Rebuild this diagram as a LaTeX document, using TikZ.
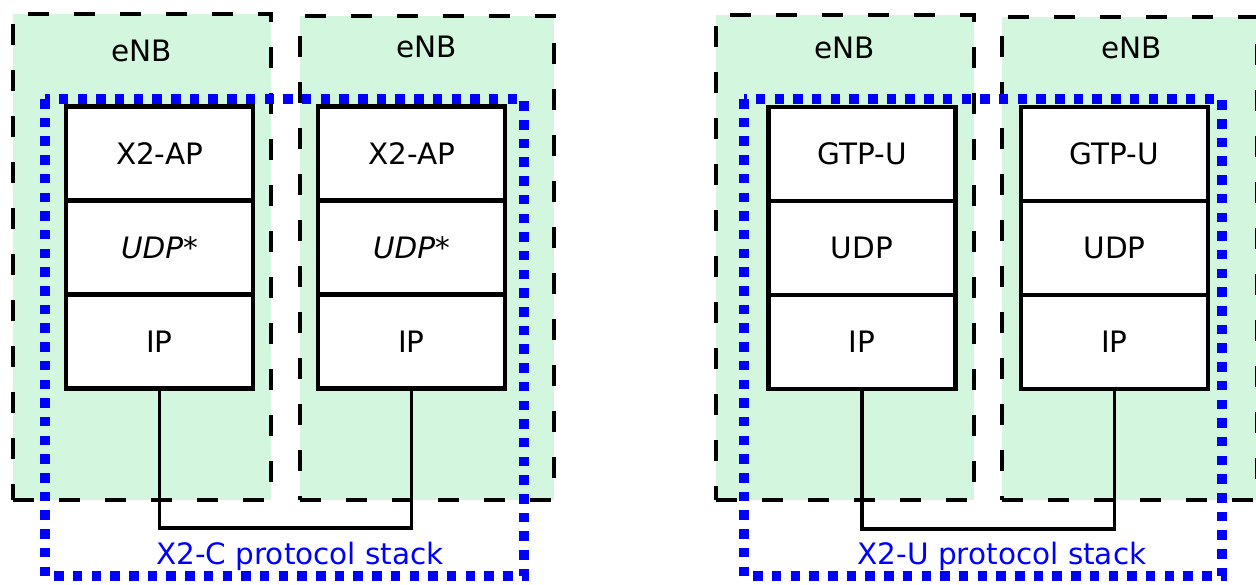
\documentclass[tikz,border=0pt]{standalone}
\usepackage{fontspec}
\setmainfont{DejaVu Sans}
\definecolor{enbgreen}{RGB}{210,247,222}
\begin{document}
\begin{tikzpicture}[x=1pt,y=-1pt,
  enb/.style={fill=enbgreen, draw=black, line width=4.2pt, dash pattern=on 21pt off 25pt, anchor=north west, inner sep=0pt, outer sep=0pt},
  enblabel/.style={font=\fontsize{29.5}{34}\selectfont, inner sep=0pt, anchor=center},
  stackframe/.style={draw=blue, line width=10pt, dash pattern=on 9.5pt off 9.2pt},
  layer/.style={draw=black, fill=white, line width=4.2pt, minimum width=187pt, minimum height=94pt, inner sep=0pt, outer sep=0pt, font=\fontsize{29.5}{34}\selectfont},
  link/.style={draw=black, line width=3.8pt},
  stacklabel/.style={text=blue, font=\fontsize{29.5}{34}\selectfont, inner sep=0pt}
]
\useasboundingbox (0,0) rectangle (1256,584);
% eNB boxes
\node[enb, minimum width=258pt, minimum height=486pt] (e1) at (13,14) {};
\node[enb, minimum width=254pt, minimum height=484pt] (e2) at (300,16) {};
\node[enb, minimum width=258pt, minimum height=485pt] (e3) at (716,15) {};
\node[enb, minimum width=255pt, minimum height=483pt] (e4) at (1002,17) {};
\node[enblabel] (l1) at (142,51) {eNB};
\node[enblabel] (l2) at (427,47) {eNB};
\node[enblabel] (l3) at (845,48) {eNB};
\node[enblabel] (l4) at (1132,48) {eNB};
% protocol stack frames
\draw[stackframe] (45,99) rectangle (524,576);
\draw[stackframe] (744,99) rectangle (1222,576);
% left group stacks
\node[layer] (a1) at (159.5,153.5) {X2-AP};
\node[layer] (a2) at (159.5,247.5) {\itshape UDP*};
\node[layer] (a3) at (159.5,341.5) {IP};
\node[layer] (b1) at (411.5,153.5) {X2-AP};
\node[layer] (b2) at (411.5,247.5) {\itshape UDP*};
\node[layer] (b3) at (411.5,341.5) {IP};
% right group stacks
\node[layer] (c1) at (862,154) {GTP-U};
\node[layer] (c2) at (862,248) {UDP};
\node[layer] (c3) at (862,342) {IP};
\node[layer] (d1) at (1114.5,154) {GTP-U};
\node[layer] (d2) at (1114.5,248) {UDP};
\node[layer] (d3) at (1114.5,342) {IP};
% connectors
\coordinate (busL) at (0,528);
\coordinate (busR) at (0,529);
\draw[link] (a3.south) -- (a3.south |- busL) -| (b3.south);
\draw[link] (c3.south) -- (c3.south |- busR) -| (d3.south);
% labels
\node[stacklabel] (sl) at (300,556) {X2-C protocol stack};
\node[stacklabel] (sr) at (1002,556) {X2-U protocol stack};
\end{tikzpicture}
\end{document}
